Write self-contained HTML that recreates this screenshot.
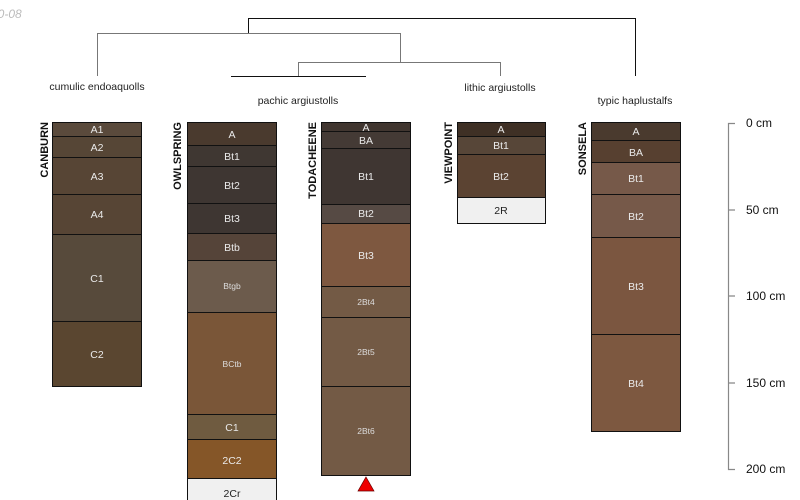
<!DOCTYPE html>
<html><head><meta charset="utf-8"><style>
html,body{margin:0;padding:0;background:#fff;}
svg{display:block;font-family:"Liberation Sans",sans-serif;}
.h{fill:#eaeaea;font-size:10.5px;text-anchor:middle;}
.s{fill:#ddd;font-size:8.5px;text-anchor:middle;}
.d{fill:#222;font-size:10.5px;text-anchor:middle;}
.n{font-size:11px;font-weight:bold;fill:#111;text-anchor:end;}
.c{font-size:10.5px;fill:#222;text-anchor:middle;}
.ax{font-size:12px;fill:#111;}
rect{stroke:#111;stroke-width:1;}
</style></head><body>
<svg width="800" height="500" viewBox="0 0 800 500">
<text x="-9" y="18" font-size="12" font-style="italic" fill="#bbb">10-08</text>
<g fill="none" stroke-width="1">
<path d="M248.5 33V18.5H635.5V76" stroke="#111"/>
<path d="M97.5 76V33.5H400.5V62" stroke="#777"/>
<path d="M298.5 76V62.5H500.5V76" stroke="#777"/>
<path d="M231 76.5H366" stroke="#111"/>
</g>
<text class="c" x="97" y="90">cumulic endoaquolls</text>
<text class="c" x="298" y="104">pachic argiustolls</text>
<text class="c" x="500" y="91">lithic argiustolls</text>
<text class="c" x="635" y="104">typic haplustalfs</text>

<text class="n" transform="translate(48,122) rotate(-90)">CANBURN</text>
<rect x="52.5" y="122.5" width="89" height="14" fill="#5a4a3c"/><text class="h" x="97" y="133">A1</text>
<rect x="52.5" y="136.5" width="89" height="21" fill="#564636"/><text class="h" x="97" y="151">A2</text>
<rect x="52.5" y="157.5" width="89" height="37" fill="#574535"/><text class="h" x="97" y="180">A3</text>
<rect x="52.5" y="194.5" width="89" height="40" fill="#574535"/><text class="h" x="97" y="218">A4</text>
<rect x="52.5" y="234.5" width="89" height="87" fill="#574a3b"/><text class="h" x="97" y="282">C1</text>
<rect x="52.5" y="321.5" width="89" height="65" fill="#5a4630"/><text class="h" x="97" y="358">C2</text>

<text class="n" transform="translate(181,122) rotate(-90)">OWLSPRING</text>
<rect x="187.5" y="122.5" width="89" height="23" fill="#4a3a2e"/><text class="h" x="232" y="138">A</text>
<rect x="187.5" y="145.5" width="89" height="21" fill="#3f3732"/><text class="h" x="232" y="160">Bt1</text>
<rect x="187.5" y="166.5" width="89" height="37" fill="#3e3632"/><text class="h" x="232" y="189">Bt2</text>
<rect x="187.5" y="203.5" width="89" height="30" fill="#3e3632"/><text class="h" x="232" y="222">Bt3</text>
<rect x="187.5" y="233.5" width="89" height="27" fill="#554439"/><text class="h" x="232" y="251">Btb</text>
<rect x="187.5" y="260.5" width="89" height="52" fill="#6c5b4c"/><text class="s" x="232" y="289">Btgb</text>
<rect x="187.5" y="312.5" width="89" height="102" fill="#7a5638"/><text class="s" x="232" y="367">BCtb</text>
<rect x="187.5" y="414.5" width="89" height="25" fill="#6f5b40"/><text class="h" x="232" y="431">C1</text>
<rect x="187.5" y="439.5" width="89" height="39" fill="#855628"/><text class="h" x="232" y="464">2C2</text>
<rect x="187.5" y="478.5" width="89" height="30" fill="#f0f0f0"/><text class="d" x="232" y="497">2Cr</text>

<text class="n" transform="translate(316,122) rotate(-90)">TODACHEENE</text>
<rect x="321.5" y="122.5" width="89" height="9" fill="#413630"/><text class="h" x="366" y="131">A</text>
<rect x="321.5" y="131.5" width="89" height="17" fill="#443a35"/><text class="h" x="366" y="144">BA</text>
<rect x="321.5" y="148.5" width="89" height="56" fill="#3f3632"/><text class="h" x="366" y="180">Bt1</text>
<rect x="321.5" y="204.5" width="89" height="19" fill="#564a44"/><text class="h" x="366" y="217">Bt2</text>
<rect x="321.5" y="223.5" width="89" height="63" fill="#7e5840"/><text class="h" x="366" y="259">Bt3</text>
<rect x="321.5" y="286.5" width="89" height="31" fill="#735a45"/><text class="s" x="366" y="305">2Bt4</text>
<rect x="321.5" y="317.5" width="89" height="69" fill="#735a45"/><text class="s" x="366" y="355">2Bt5</text>
<rect x="321.5" y="386.5" width="89" height="89" fill="#735a45"/><text class="s" x="366" y="434">2Bt6</text>
<polygon points="366,477 374,491 358,491" fill="#e00" stroke="#600" stroke-width="0.7"/>

<text class="n" transform="translate(452,122) rotate(-90)">VIEWPOINT</text>
<rect x="457.5" y="122.5" width="88" height="14" fill="#3f3025"/><text class="h" x="501" y="133">A</text>
<rect x="457.5" y="136.5" width="88" height="18" fill="#574638"/><text class="h" x="501" y="149">Bt1</text>
<rect x="457.5" y="154.5" width="88" height="43" fill="#5b4332"/><text class="h" x="501" y="180">Bt2</text>
<rect x="457.5" y="197.5" width="88" height="26" fill="#f0f0f0"/><text class="d" x="501" y="214">2R</text>

<text class="n" transform="translate(586,122) rotate(-90)">SONSELA</text>
<rect x="591.5" y="122.5" width="89" height="18" fill="#4a3a2e"/><text class="h" x="636" y="135">A</text>
<rect x="591.5" y="140.5" width="89" height="22" fill="#574030"/><text class="h" x="636" y="156">BA</text>
<rect x="591.5" y="162.5" width="89" height="32" fill="#765949"/><text class="h" x="636" y="182">Bt1</text>
<rect x="591.5" y="194.5" width="89" height="43" fill="#765949"/><text class="h" x="636" y="220">Bt2</text>
<rect x="591.5" y="237.5" width="89" height="97" fill="#7b5640"/><text class="h" x="636" y="290">Bt3</text>
<rect x="591.5" y="334.5" width="89" height="97" fill="#7d5840"/><text class="h" x="636" y="387">Bt4</text>

<g stroke="#888" stroke-width="1.2" fill="none">
<path d="M735 123.5H728.5V469.5H735"/>
<path d="M728.5 210H735M728.5 296H735M728.5 383H735"/>
</g>
<text class="ax" x="746" y="127">0 cm</text>
<text class="ax" x="746" y="214">50 cm</text>
<text class="ax" x="746" y="300">100 cm</text>
<text class="ax" x="746" y="387">150 cm</text>
<text class="ax" x="746" y="473">200 cm</text>
</svg>
</body></html>
